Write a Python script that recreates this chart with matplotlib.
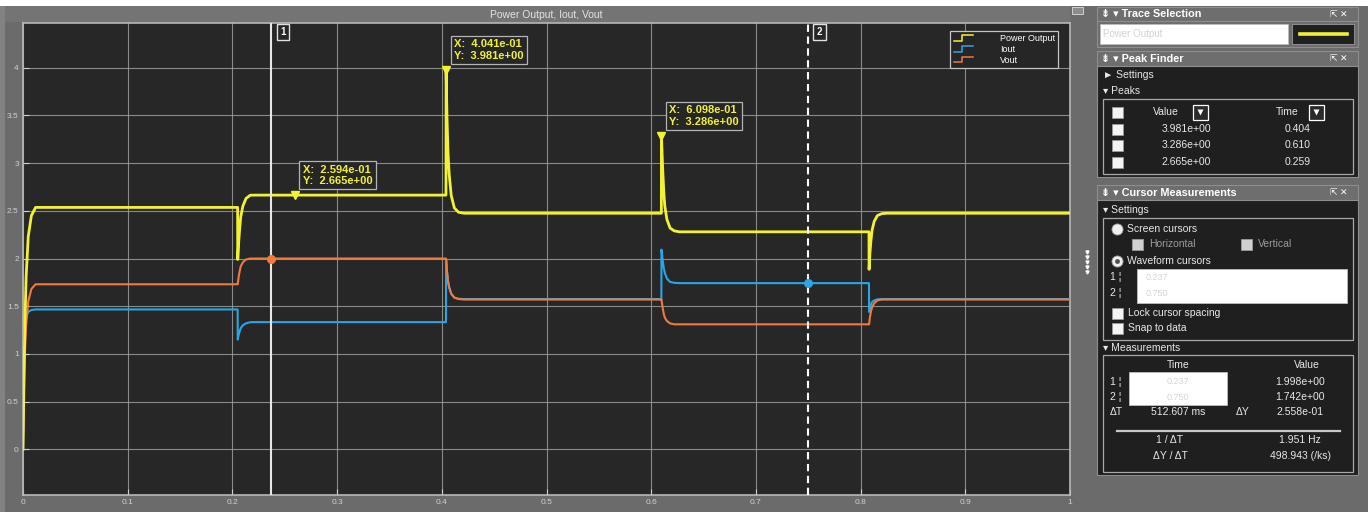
import matplotlib
matplotlib.use("Agg")
import matplotlib.pyplot as plt
from matplotlib.patches import Rectangle
from matplotlib.lines import Line2D
from matplotlib.legend_handler import HandlerLine2D

plt.rcParams['font.family'] = ['Liberation Sans', 'DejaVu Sans']

# ---------------------------------------------------------------- data
time = [0.0, 0.0005, 0.001, 0.002, 0.003, 0.005, 0.008, 0.012,
        0.2050, 0.2051, 0.206, 0.207, 0.208, 0.210, 0.213, 0.217, 0.222,
        0.4040, 0.4041, 0.405, 0.406, 0.407, 0.409, 0.412, 0.416, 0.421,
        0.6097, 0.6098, 0.611, 0.612, 0.613, 0.615, 0.618, 0.622, 0.627,
        0.8080, 0.8081, 0.809, 0.810, 0.811, 0.813, 0.816, 0.820, 0.825,
        1.0]

vout = [0.0, 0.35, 0.65, 1.05, 1.30, 1.55, 1.68, 1.73,
        1.73, 1.73, 1.81, 1.87, 1.92, 1.96, 1.99, 2.00, 2.00,
        2.00, 2.00, 1.86, 1.76, 1.70, 1.63, 1.59, 1.575, 1.57,
        1.57, 1.57, 1.48, 1.42, 1.38, 1.345, 1.32, 1.31, 1.31,
        1.31, 1.31, 1.39, 1.45, 1.49, 1.53, 1.56, 1.57, 1.57,
        1.57]

iout = [0.0, 1.10, 1.22, 1.33, 1.39, 1.44, 1.46, 1.466,
        1.466, 1.15, 1.20, 1.24, 1.27, 1.30, 1.32, 1.332, 1.333,
        1.333, 1.99, 1.86, 1.76, 1.70, 1.63, 1.59, 1.578, 1.575,
        1.575, 2.093, 1.98, 1.90, 1.85, 1.79, 1.755, 1.745, 1.742,
        1.742, 1.44, 1.49, 1.52, 1.545, 1.56, 1.572, 1.575, 1.575,
        1.575]

power = [0.0, 0.385, 0.79, 1.40, 1.81, 2.23, 2.45, 2.536,
         2.536, 1.99, 2.17, 2.32, 2.44, 2.55, 2.63, 2.664, 2.665,
         2.665, 3.981, 3.46, 3.10, 2.89, 2.66, 2.53, 2.485, 2.475,
         2.475, 3.286, 2.93, 2.70, 2.55, 2.41, 2.32, 2.29, 2.28,
         2.28, 1.886, 2.07, 2.20, 2.30, 2.39, 2.45, 2.47, 2.475,
         2.475]

series_names = ["Power Output", "Iout", "Vout"]

peak_times = [0.4041, 0.6098, 0.2594]
peak_values = [3.981, 3.286, 2.665]

cursor_times = [0.237, 0.749607]
cursor_values = [1.998, 1.742]

x_ticks = [0, 0.1, 0.2, 0.3, 0.4, 0.5, 0.6, 0.7, 0.8, 0.9, 1.0]
x_tick_labels = ["0", "0.1", "0.2", "0.3", "0.4", "0.5", "0.6", "0.7", "0.8", "0.9", "1"]
y_ticks = [0, 0.5, 1, 1.5, 2, 2.5, 3, 3.5, 4]
y_tick_labels = ["0", "0.5", "1", "1.5", "2", "2.5", "3", "3.5", "4"]

# ---------------------------------------------------------------- style
YELLOW = '#f2f233'
BLUE = '#2aa6e4'
ORANGE = '#f07a40'
BG = '#6b6b6b'
PLOT_BG = '#272727'
PANEL_BG = '#1f1f1f'
TXT = '#e8e8e8'

W, H = 1368, 512


def fx(x):
    return x / W


def fy(y):
    return 1 - y / H


fig = plt.figure(figsize=(W / 100, H / 100), dpi=100, facecolor=BG)


def rect(x0, y0, x1, y1, fc, ec='none', lw=0.0, z=1):
    r = Rectangle((fx(x0), fy(y1)), fx(x1) - fx(x0), fy(y0) - fy(y1),
                  transform=fig.transFigure, facecolor=fc, edgecolor=ec,
                  linewidth=lw, zorder=z)
    fig.add_artist(r)


def label(x, y, s, **kw):
    kw.setdefault('color', TXT)
    kw.setdefault('fontsize', 7.5)
    kw.setdefault('va', 'center')
    fig.text(fx(x), fy(y), s, **kw)


def hline(x0, x1, y, color, lw):
    fig.add_artist(Line2D([fx(x0), fx(x1)], [fy(y), fy(y)], color=color,
                          lw=lw, transform=fig.transFigure))


def glyph(x, y, marker, ms, fc, ec='none', mew=0.6, z=3):
    fig.add_artist(Line2D([fx(x)], [fy(y)], marker=marker, ms=ms, mfc=fc,
                          mec=ec, mew=mew, ls='none',
                          transform=fig.transFigure, zorder=z))


def checkbox(x, y, fc='#f4f4f4'):
    rect(x - 5.5, y - 5.5, x + 5.5, y + 5.5, fc, ec='#9a9a9a', lw=0.6, z=3)


# window chrome
rect(0, 0, W, 6, 'white')
rect(0, 6, 5, H, '#828282')
rect(5, 6, 1070, 22, '#747474')
label(546, 14.5, "Power Output, Iout, Vout", ha='center', fontsize=7.5,
      color='#e4e4e4')
rect(1072, 7, 1083, 14, '#8c8c8c', ec='#dcdcdc', lw=0.6)
fig.add_artist(Line2D([fx(1087)] * 5, [fy(y) for y in (252, 257, 262, 267, 272)],
                      marker='v', ls='none', ms=2.2, color='white',
                      transform=fig.transFigure))

# ---------------------------------------------------------------- scope axes
ax = fig.add_axes([fx(23), fy(495), fx(1070) - fx(23), fy(23) - fy(495)])
ax.set_facecolor(PLOT_BG)
ax.set_xlim(0, 1)
ax.set_ylim(-0.48, 4.47)
ax.set_xticks(x_ticks)
ax.set_xticklabels(x_tick_labels)
ax.set_yticks(y_ticks)
ax.set_yticklabels(y_tick_labels)
ax.tick_params(colors='#d0d0d0', labelsize=6, direction='in', length=4,
               width=0.8, pad=3)
for s in ax.spines.values():
    s.set_color('#b8b8b8')
    s.set_linewidth(1.2)
ax.grid(True, color='#9c9c9c', lw=0.8, alpha=0.85)
ax.set_axisbelow(True)

ax.plot(time, iout, color=BLUE, lw=1.5, zorder=3, label=series_names[1])
ax.plot(time, vout, color=ORANGE, lw=1.5, zorder=4, label=series_names[2])
ax.plot(time, power, color=YELLOW, lw=2.0, zorder=5, label=series_names[0])

# peak markers with data tips
for t, p in zip(peak_times, peak_values):
    ax.plot(t, p, marker='v', color=YELLOW, ms=5.5, zorder=6)
    ax.annotate(f"X:  {t:.3e}\nY:  {p:.3e}", xy=(t, p), xytext=(8, 9),
                textcoords='offset pixels', ha='left', va='bottom',
                color=YELLOW, fontsize=8, fontweight='bold', zorder=7,
                linespacing=1.2,
                bbox=dict(boxstyle='square,pad=0.3', fc='#262626',
                          ec='#b4b4b4', lw=0.9))

# waveform cursors
ax.axvline(cursor_times[0], color='#e6e6e6', lw=1.5, zorder=5.5)
ax.axvline(cursor_times[1], color='white', lw=1.5, ls=(0, (3.5, 2.2)), zorder=5.5)
ax.plot(cursor_times[0], cursor_values[0], 'o', color=ORANGE, ms=5.5, zorder=6)
ax.plot(cursor_times[1], cursor_values[1], 'o', color=BLUE, ms=5.5, zorder=6)
for i, t in enumerate(cursor_times):
    ax.annotate(str(i + 1), xy=(t, 1), xycoords=('data', 'axes fraction'),
                xytext=(9, -4), textcoords='offset pixels', ha='left', va='top',
                color='white', fontsize=7, fontweight='bold', zorder=7,
                bbox=dict(boxstyle='square,pad=0.35', fc='#262626',
                          ec='#e0e0e0', lw=1.0))


class StepHandler(HandlerLine2D):
    def create_artists(self, legend, orig_handle, xdescent, ydescent,
                       width, height, fontsize, trans):
        x0 = -xdescent
        x1 = x0 + width
        xm = x0 + 0.45 * width
        y0 = -ydescent + 0.05 * height
        y1 = -ydescent + 0.95 * height
        ln = Line2D([x0, xm, xm, x1], [y0, y0, y1, y1],
                    color=orig_handle.get_color(), lw=1.1)
        ln.set_transform(trans)
        return [ln]


h, l = ax.get_legend_handles_labels()
order = [2, 0, 1]
leg = ax.legend([h[i] for i in order], [l[i] for i in order],
                loc='upper right', bbox_to_anchor=(0.9885, 0.983),
                borderaxespad=0, fontsize=6.5, labelspacing=0.2,
                handlelength=2.1, handletextpad=3.0, borderpad=0.35,
                fancybox=False, framealpha=1, facecolor='#262626',
                edgecolor='#c4c4c4',
                handler_map={Line2D: StepHandler()})
leg.get_frame().set_linewidth(0.9)
leg.set_zorder(8)
for txt in leg.get_texts():
    txt.set_color('white')

# ---------------------------------------------------------------- side panel
HDR_FC = '#6e6e6e'
HDR_EC = '#8e8e8e'
BOX_EC = '#a8a8a8'


def header(y0, y1, title):
    rect(1097, y0, 1358, y1, HDR_FC, ec=HDR_EC, lw=0.8)
    label(1101, (y0 + y1) / 2, "⇟ ▾ " + title, fontweight='bold',
          fontsize=7.8, color='white')
    label(1330, (y0 + y1) / 2, "⇱ ✕", fontsize=6.5, color='white')


# Trace selection
header(7, 21, "Trace Selection")
rect(1097, 21, 1358, 47, HDR_FC, ec=HDR_EC, lw=0.8)
rect(1100, 24, 1288, 44, 'white', ec='#bdbdbd', lw=0.6, z=2)
label(1103, 34, "Power Output", color='#d2d2d2', fontsize=7)
rect(1292, 24, 1354, 44, '#202020', ec='#9a9a9a', lw=0.6, z=2)
hline(1300, 1347, 34, YELLOW, 2.6)

# Peak finder
header(51, 66, "Peak Finder")
rect(1097, 66, 1358, 177, PANEL_BG, ec=HDR_EC, lw=0.8)
label(1103, 75, "► Settings")
label(1103, 91, "▾ Peaks")
rect(1103, 99, 1353, 174, 'none', ec=BOX_EC, lw=0.9, z=2)
checkbox(1117, 112)
label(1153, 112, "Value")
label(1276, 112, "Time")
for bx in (1200, 1316):
    rect(bx - 7.5, 104.5, bx + 7.5, 119.5, '#2a2a2a', ec='white', lw=0.9, z=3)
    glyph(bx, 111.5, 'v', 4, 'white', z=4)
for k, (t, p) in enumerate(sorted(zip(peak_times, peak_values),
                                  key=lambda q: -q[1])):
    yy = 129 + k * 16.5
    checkbox(1117, yy)
    label(1186, yy, f"{p:.3e}", ha='center')
    label(1298, yy, f"{t:.3f}", ha='center')

# Cursor measurements
header(185, 200, "Cursor Measurements")
rect(1097, 200, 1358, 475, PANEL_BG, ec=HDR_EC, lw=0.8)
label(1103, 210, "▾ Settings")
rect(1103, 218, 1353, 340, 'none', ec=BOX_EC, lw=0.9, z=2)
glyph(1117, 229, 'o', 8, '#f0f0f0', '#9a9a9a')
label(1127, 229, "Screen cursors")
checkbox(1137, 244, fc='#cfcfcf')
label(1149, 244, "Horizontal", color='#9c9c9c')
checkbox(1246, 244, fc='#cfcfcf')
label(1258, 244, "Vertical", color='#9c9c9c')
glyph(1117, 261, 'o', 8, '#f0f0f0', '#9a9a9a')
glyph(1117, 261, 'o', 3.5, '#505050', z=4)
label(1127, 261, "Waveform cursors")
label(1110, 277, "1 ¦")
label(1110, 293, "2 ¦")
rect(1137, 269, 1347, 303, 'white', ec='#bdbdbd', lw=0.6, z=2)
label(1146, 277, f"{cursor_times[0]:.3f}", color='#d4d4d4', fontsize=6.5)
label(1146, 293, f"{cursor_times[1]:.3f}", color='#d4d4d4', fontsize=6.5)
checkbox(1117, 313)
label(1128, 313, "Lock cursor spacing")
checkbox(1117, 328)
label(1128, 328, "Snap to data")

label(1103, 348, "▾ Measurements")
rect(1103, 355, 1353, 472, 'none', ec=BOX_EC, lw=0.9, z=2)
label(1178, 365, "Time", ha='center')
label(1307, 365, "Value", ha='center')
label(1110, 382, "1 ¦")
label(1110, 397, "2 ¦")
rect(1129, 372, 1227, 405, 'white', ec='#bdbdbd', lw=0.6, z=2)
label(1178, 382, f"{cursor_times[0]:.3f}", color='#d4d4d4', fontsize=6.5, ha='center')
label(1178, 397, f"{cursor_times[1]:.3f}", color='#d4d4d4', fontsize=6.5, ha='center')
label(1300, 382, f"{cursor_values[0]:.3e}", ha='center')
label(1300, 397, f"{cursor_values[1]:.3e}", ha='center')
label(1110, 412, "ΔT")
label(1178, 412, "512.607 ms", ha='center')
label(1236, 412, "ΔY")
label(1300, 412, "2.558e-01", ha='center')
hline(1117, 1340, 431, '#c8c8c8', 1.6)
label(1170, 440, "1 / ΔT", ha='center')
label(1300, 440, "1.951 Hz", ha='center')
label(1170, 456, "ΔY / ΔT", ha='center')
label(1300, 456, "498.943 (/ks)", ha='center')

fig.savefig("out.png", dpi=100, facecolor=fig.get_facecolor())
